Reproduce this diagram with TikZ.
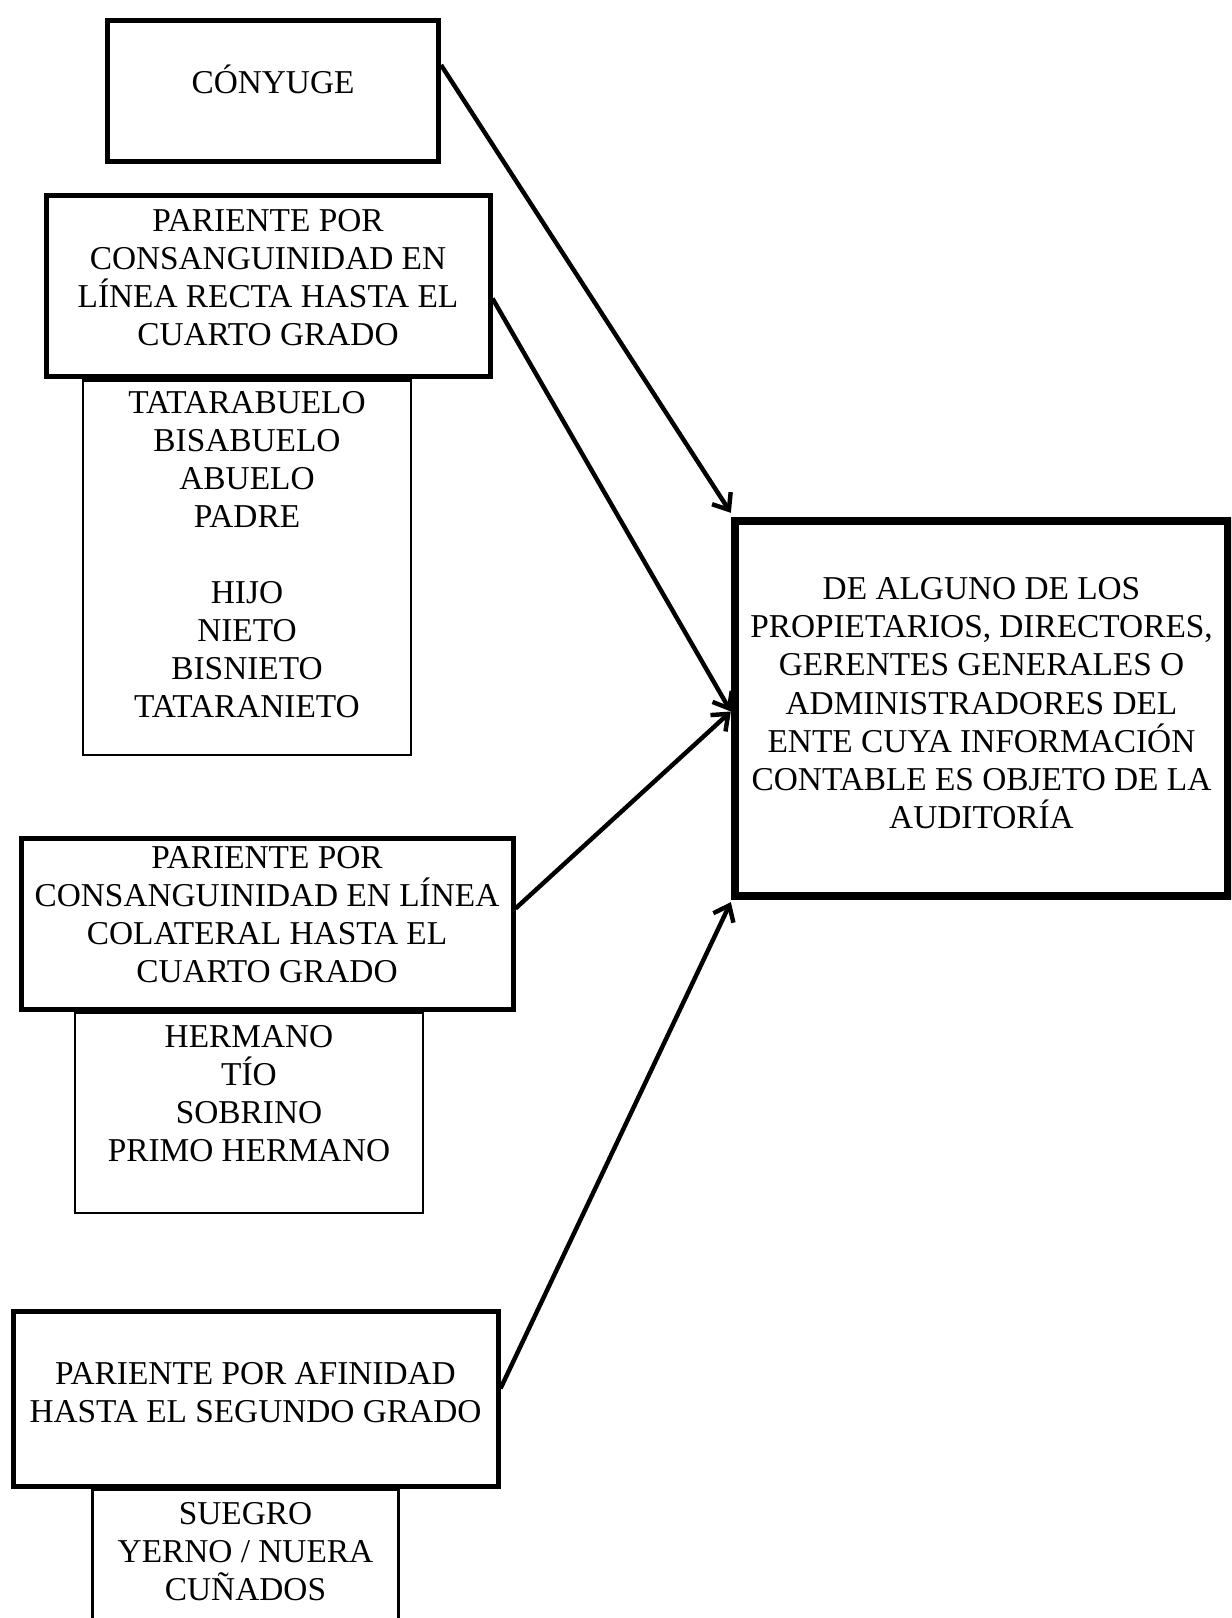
\documentclass[tikz,border=0pt]{standalone}
\usepackage{fontspec}
\setmainfont{Liberation Serif}
\usetikzlibrary{positioning,arrows.meta,calc}

\newdimen\pxl
\pxl=0.36pt
\newcommand\hueco[1]{\rule[-#1\pxl]{0pt}{#1\pxl}}

\tikzset{
  grado/.style={draw, line width=1.8pt, align=center, inner sep=2pt,
    font=\fontsize{12}{13.7}\selectfont},
  lista/.style={draw, line width=0.8pt, align=center, inner sep=2pt,
    font=\fontsize{12}{13.7}\selectfont},
  ente/.style={draw, line width=3pt, align=center, inner sep=2pt,
    font=\fontsize{12}{13.7}\selectfont},
  flecha/.style={line width=1.6pt, -{Straight Barb[length=5pt,width=8pt]}},
}

\begin{document}
\begin{tikzpicture}[x=0.36pt, y=-0.36pt]
  \useasboundingbox (0,0) rectangle (1231,1618);
  \clip (0,0) rectangle (1231,1618);

  \node[grado, minimum width=331\pxl, minimum height=141\pxl] (cony) at (273,91)
    {CÓNYUGE\hueco{23}};

  \node[grado, minimum width=444\pxl, minimum height=181\pxl] (recta) at (268,286.5)
    {PARIENTE POR\\CONSANGUINIDAD EN\\LÍNEA RECTA HASTA EL\\CUARTO GRADO\hueco{18}};
  \node[lista, below=0pt of recta, xshift=-21\pxl, minimum width=328\pxl, minimum height=374\pxl] (lrecta)
    {TATARABUELO\\BISABUELO\\ABUELO\\PADRE\\[13.7pt]HIJO\\NIETO\\BISNIETO\\TATARANIETO\hueco{26}};

  \node[grado, minimum width=492\pxl, minimum height=171\pxl] (colat) at (267,923.5)
    {PARIENTE POR\\CONSANGUINIDAD EN LÍNEA\\COLATERAL HASTA EL\\CUARTO GRADO\hueco{18}};
  \node[lista, below=0pt of colat, xshift=-18\pxl, minimum width=348\pxl, minimum height=200\pxl] (lcolat)
    {HERMANO\\TÍO\\SOBRINO\\PRIMO HERMANO\hueco{38}};

  \node[grado, minimum width=485\pxl, minimum height=175\pxl] (afin) at (255.5,1398.5)
    {PARIENTE POR AFINIDAD\\HASTA EL SEGUNDO GRADO\hueco{13}};
  \node[lista, below=0pt of afin, xshift=-10\pxl, minimum width=306\pxl, minimum height=162\pxl] (lafin)
    {SUEGRO\\YERNO / NUERA\\CUÑADOS\hueco{38}};

  \node[ente, minimum width=493\pxl, minimum height=375\pxl] (ente) at (981.5,708.5)
    {DE ALGUNO DE LOS\\PROPIETARIOS, DIRECTORES,\\GERENTES GENERALES O\\ADMINISTRADORES DEL\\ENTE CUYA INFORMACIÓN\\CONTABLE ES OBJETO DE LA\\AUDITORÍA\hueco{11}};

  \draw[flecha] ([yshift=26\pxl]cony.east) -- ([yshift=4\pxl]ente.north west);
  \draw[flecha] ([yshift=-12\pxl]recta.east) -- ([yshift=-3\pxl]ente.west);
  \draw[flecha] ([yshift=15\pxl]colat.east) -- ([yshift=-3\pxl]ente.west);
  \draw[flecha] ([yshift=10\pxl]afin.east) -- ([yshift=-2\pxl]ente.south west);
\end{tikzpicture}
\end{document}
